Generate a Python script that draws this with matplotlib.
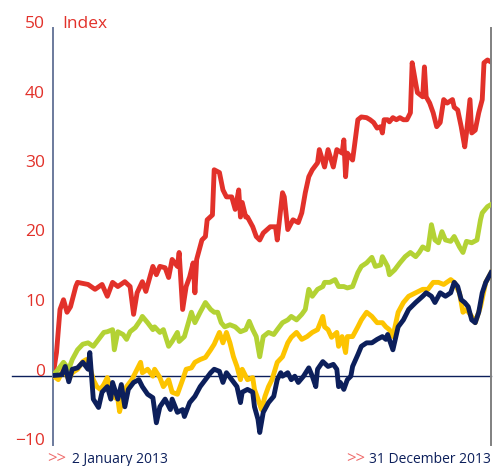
import matplotlib
matplotlib.use("Agg")
import matplotlib.pyplot as plt
import matplotlib.transforms as mtransforms

# trading day index (0 = 2 Jan 2013, 250 = 31 Dec 2013) and index values
red_days = [0, 2, 4, 6, 8, 10, 13, 14, 20, 24, 28, 31, 34, 37, 41, 44, 46, 48, 51, 53,
            57, 59, 61, 64, 66, 68, 71, 72, 74, 76, 78, 80, 81, 82, 85, 87, 88, 91, 92, 95,
            97, 99, 102, 104, 106, 107, 108, 110, 111, 114, 116, 118, 120, 124, 127, 128,
            131, 132, 134, 137, 140, 142, 144, 146, 148, 151, 152, 155, 157, 160, 162, 165,
            166, 167, 168, 171, 172, 174, 176, 179, 181, 183, 185, 187, 188, 189, 191, 192,
            194, 196, 198, 200, 202, 204, 205, 207, 208, 211, 212, 213, 215, 217, 219, 221,
            223, 225, 228, 229, 231, 233, 235, 236, 238, 239, 241, 243, 245, 246, 248, 250]
red_vals = [0, 3.3, 9.5, 10.9, 9.1, 9.9, 12.8, 13.4, 13.1, 12.4, 13.1, 11.4, 13.4, 12.8, 13.5,
            12.8, 8.8, 11.9, 13.5, 12.1, 15.7, 14.5, 15.7, 15.5, 14.1, 16.7, 15.7, 17.7, 9.5,
            12.8, 14.2, 16.2, 11.9, 16.7, 19.5, 20.0, 22.4, 23.1, 29.6, 29.2, 26.7, 25.7, 25.7,
            23.9, 26.7, 22.8, 24.9, 22.8, 22.8, 21.4, 20.0, 19.5, 20.5, 21.4, 21.4, 19.5, 26.3,
            25.7, 21.0, 22.4, 22.0, 23.4, 26.3, 28.6, 29.6, 30.6, 32.5, 30.0, 32.5, 30.0, 32.5,
            32.0, 33.9, 28.6, 32.0, 31.0, 32.9, 36.8, 37.2, 37.1, 36.8, 36.4, 35.6, 35.8, 34.9,
            36.8, 36.8, 36.5, 37.1, 36.8, 37.1, 36.8, 36.8, 37.8, 45.0, 42.1, 40.7, 40.1, 44.4,
            40.1, 39.2, 37.8, 35.8, 36.4, 39.7, 39.2, 39.7, 38.6, 38.2, 35.8, 32.9, 34.9, 39.7,
            34.9, 35.3, 37.8, 39.7, 45.0, 45.4, 45.1]

green_days = [0, 3, 6, 9, 11, 14, 17, 20, 23, 26, 29, 31, 34, 35, 37, 40, 42, 44, 47, 50,
              51, 54, 57, 58, 61, 63, 66, 68, 71, 72, 75, 79, 81, 84, 87, 90, 92, 94, 96, 98,
              101, 104, 107, 110, 112, 114, 116, 118, 120, 123, 126, 128, 131, 134, 136, 139,
              142, 144, 146, 148, 151, 154, 155, 158, 161, 163, 166, 168, 171, 174, 176, 179,
              182, 184, 187, 188, 191, 192, 195, 198, 201, 204, 207, 209, 211, 214, 216, 218,
              220, 222, 224, 227, 229, 232, 234, 236, 239, 242, 244, 245, 248, 250]
green_vals = [0, 0.9, 1.9, 0.9, 2.3, 3.7, 4.5, 4.7, 4.2, 5.2, 6.2, 6.3, 6.6, 3.7, 6.3, 5.9,
              5.2, 6.3, 6.9, 8.0, 8.5, 7.6, 6.6, 7.0, 6.2, 6.6, 4.2, 4.9, 6.2, 4.9, 5.6, 9.1,
              7.6, 9.1, 10.5, 9.5, 9.1, 9.1, 7.6, 7.0, 7.3, 7.0, 6.3, 6.6, 7.8, 6.6, 5.6, 2.7,
              5.6, 6.2, 5.9, 6.6, 7.6, 8.0, 8.5, 8.0, 8.8, 9.5, 12.4, 11.4, 12.4, 12.8, 13.4,
              13.4, 13.8, 12.8, 12.8, 12.6, 12.8, 14.8, 15.7, 16.2, 17.0, 15.7, 15.9, 17.1,
              15.7, 14.5, 15.2, 16.2, 17.1, 17.7, 17.1, 17.7, 18.5, 18.1, 21.7, 19.5, 19.1,
              20.7, 19.5, 19.3, 20.0, 18.5, 17.7, 19.3, 19.1, 19.5, 22.4, 23.4, 24.3, 24.6]

yellow_days = [0, 3, 6, 9, 11, 14, 17, 19, 21, 23, 25, 27, 29, 31, 34, 37, 38, 40, 42, 45,
               48, 50, 51, 54, 57, 58, 61, 63, 66, 68, 71, 74, 76, 79, 81, 84, 87, 90, 92, 95,
               97, 99, 101, 103, 105, 107, 108, 111, 114, 115, 117, 119, 121, 123, 125, 128,
               131, 134, 136, 139, 142, 145, 148, 151, 154, 155, 157, 159, 162, 163, 165, 167,
               168, 171, 174, 176, 179, 182, 185, 188, 190, 192, 194, 197, 200, 203, 207, 211,
               214, 217, 220, 223, 227, 229, 232, 234, 236, 239, 241, 244, 247, 250]
yellow_vals = [0, -0.6, 0.9, -0.6, 0.4, 0.9, 2.0, 2.3, 1.3, -0.6, -1.6, -2.0, -1.3, -0.3,
               -3.0, -3.4, -5.2, -3.0, -1.6, -0.6, 0.9, 1.9, 0.4, 0.9, -0.1, 0.9, -0.3, -1.6,
               -0.6, -2.4, -2.7, -0.6, 0.9, 1.1, 1.9, 2.3, 2.6, 3.7, 4.5, 6.2, 4.7, 6.2, 4.7,
               2.7, 1.3, -0.6, 0.9, -0.6, -0.3, -2.0, -3.4, -4.9, -3.0, -1.6, -0.6, 1.9, 2.7,
               4.7, 5.5, 6.2, 5.2, 5.6, 6.2, 6.6, 8.5, 7.0, 6.6, 5.5, 6.2, 4.2, 5.6, 3.3, 5.6,
               5.6, 7.0, 8.0, 9.1, 8.5, 7.6, 7.6, 7.0, 6.6, 5.6, 9.1, 10.5, 11.4, 11.9, 12.4,
               12.4, 13.4, 13.4, 13.1, 13.8, 13.4, 11.9, 9.1, 9.5, 8.5, 7.6, 9.9, 13.4, 14.8]

navy_days = [0, 5, 7, 9, 11, 14, 17, 20, 21, 23, 26, 28, 31, 33, 34, 37, 39, 41, 43, 46,
             49, 51, 54, 57, 59, 61, 64, 67, 68, 71, 74, 75, 78, 81, 84, 87, 90, 92, 95, 97,
             99, 102, 105, 107, 108, 111, 114, 115, 117, 118, 120, 123, 126, 128, 130, 131,
             134, 136, 138, 140, 143, 146, 148, 150, 151, 154, 157, 160, 162, 163, 164, 166,
             168, 170, 171, 174, 176, 179, 182, 185, 188, 190, 191, 194, 197, 200, 203, 207,
             211, 213, 216, 218, 221, 224, 227, 229, 231, 233, 235, 237, 239, 241, 243, 245,
             247, 250]
navy_vals = [0, 0.1, 1.3, -0.9, 0.9, 1.1, 1.9, 0.9, 3.3, -3.4, -4.6, -2.4, -1.6, -3.4, -1.0,
             -3.4, -1.3, -4.5, -2.0, -1.0, -0.6, -1.6, -2.7, -3.2, -6.8, -4.5, -3.4, -4.9,
             -3.4, -5.3, -4.9, -5.9, -3.9, -3.0, -1.6, -0.6, 0.4, 0.9, 0.6, -1.0, 0.4, -0.6,
             -1.6, -3.9, -2.4, -2.0, -2.4, -4.5, -6.3, -8.2, -5.3, -3.9, -3.0, -0.6, 0.4, -0.1,
             0.4, -0.6, -0.1, -1.0, -0.1, 1.1, -0.1, -1.6, 0.9, 2.0, 1.3, 1.6, 0.9, -1.6, -1.0,
             -2.0, -0.6, -0.1, 1.3, 3.0, 4.2, 4.7, 4.7, 5.2, 5.6, 5.2, 5.9, 3.7, 7.0, 8.0, 9.5,
             10.5, 11.4, 11.9, 11.4, 10.5, 11.9, 11.4, 11.9, 13.4, 12.8, 10.9, 10.5, 9.9, 8.0,
             7.6, 9.1, 11.9, 13.4, 14.8]

y_ticks = [-10, 0, 10, 20, 30, 40, 50]
y_labels = ["\u221210", "0", "10", "20", "30", "40", "50"]
start_label = "2 January 2013"
end_label = "31 December 2013"

RED = "#e2312a"
GREEN = "#b3d234"
YELLOW = "#fdc400"
NAVY = "#0c1f5b"

plt.rcParams['font.family'] = ['Open Sans', 'DejaVu Sans']

fig = plt.figure(figsize=(4.95, 4.66), dpi=100)
ax = fig.add_axes([53 / 495, 1 - 445 / 466, 438 / 495, 417 / 466])

ax.axhline(0, xmin=-41 / 438, xmax=1, color=NAVY, lw=1.0, clip_on=False, zorder=1)

lw = 3.5
ax.plot(red_days, red_vals, color=RED, lw=lw, zorder=2)
ax.plot(green_days, green_vals, color=GREEN, lw=lw, zorder=3)
ax.plot(yellow_days, yellow_vals, color=YELLOW, lw=lw, zorder=4)
ax.plot(navy_days, navy_vals, color=NAVY, lw=lw, zorder=5)

ax.set_xlim(0, 250)
ax.set_ylim(-10, 50)

for side in ['top', 'bottom']:
    ax.spines[side].set_visible(False)
ax.spines['left'].set_color("#6b7a9c")
ax.spines['left'].set_linewidth(1.4)
ax.spines['right'].set_color("#808080")
ax.spines['right'].set_linewidth(1.4)

ax.set_xticks([])
ax.set_yticks([])

ytrans = mtransforms.blended_transform_factory(ax.transAxes, ax.transData)
for v, lab in zip(y_ticks, y_labels):
    ax.text(-8 / 438, v, lab, transform=ytrans, ha='right', va='baseline',
            color=RED, fontsize=12.5)

ax.text(9 / 438, 50, "Index", transform=ytrans, ha='left', va='baseline',
        color=RED, fontsize=12.5)

# date labels under the axis
fig.text(47 / 495, 1 - 463 / 466, ">>", color="#ef6a6a", fontsize=12,
         ha='left', va='baseline')
fig.text(72 / 495, 1 - 463 / 466, start_label, color=NAVY, fontsize=10,
         ha='left', va='baseline')
fig.text(346 / 495, 1 - 463 / 466, ">>", color="#ef6a6a", fontsize=12,
         ha='left', va='baseline')
fig.text(491 / 495, 1 - 463 / 466, end_label, color=NAVY, fontsize=10,
         ha='right', va='baseline')

fig.savefig("out.png", dpi=100)
